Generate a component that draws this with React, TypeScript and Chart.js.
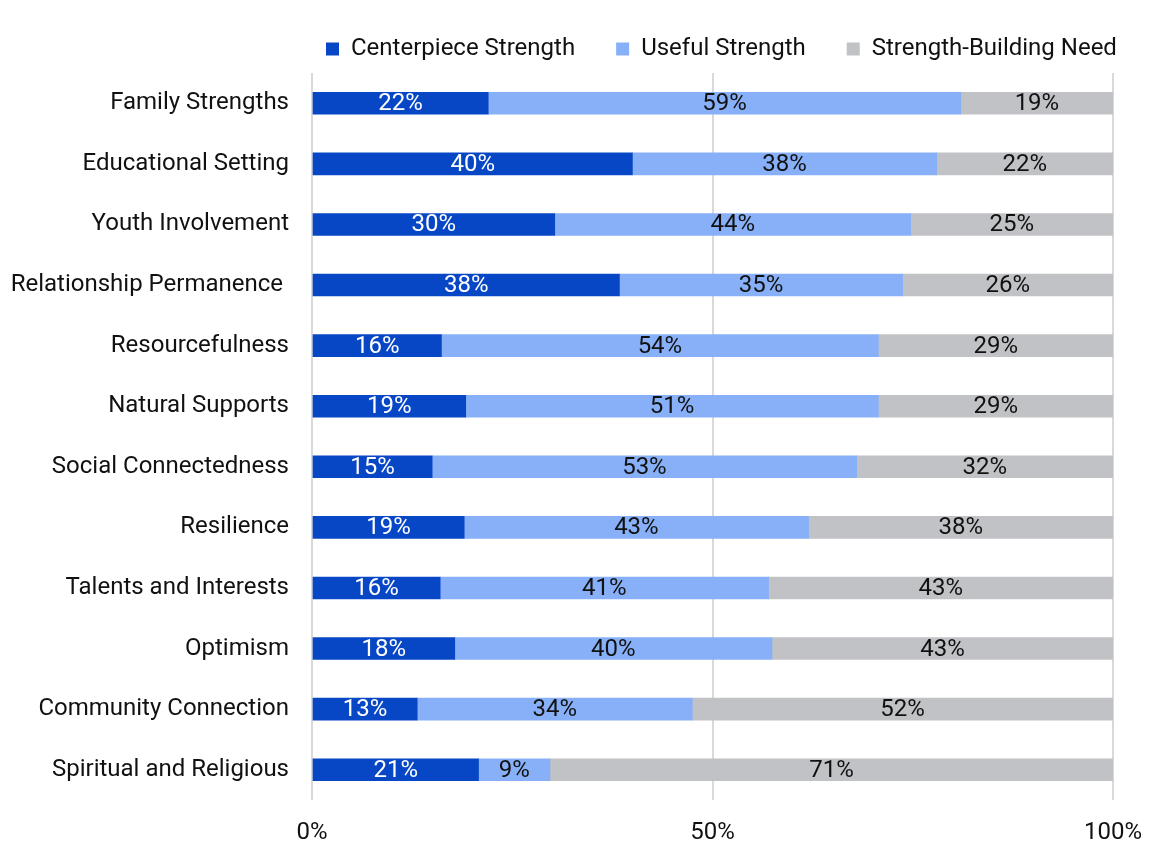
import React, { useEffect, useRef } from "react";
import { Chart, registerables } from "chart.js";

Chart.register(...registerables);

const categories = [
  "Family Strengths",
  "Educational Setting",
  "Youth Involvement",
  "Relationship Permanence ",
  "Resourcefulness",
  "Natural Supports",
  "Social Connectedness",
  "Resilience",
  "Talents and Interests",
  "Optimism",
  "Community Connection",
  "Spiritual and Religious",
];

const centerpiece = [22, 40, 30, 38, 16, 19, 15, 19, 16, 18, 13, 21];
const useful = [59, 38, 44, 35, 54, 51, 53, 43, 41, 40, 34, 9];
const buildingNeed = [19, 22, 25, 26, 29, 29, 32, 38, 43, 43, 52, 71];

const seriesNames = ["Centerpiece Strength", "Useful Strength", "Strength-Building Need"];
const seriesColors = ["#0747C6", "#87B0F8", "#C1C2C5"];
const labelColors = ["#FFFFFF", "#111111", "#111111"];
const xTicks = [0, 50, 100];

const FONT = "Roboto";
const FS = 24;

export default function App() {
  const ref = useRef<HTMLCanvasElement | null>(null);

  useEffect(() => {
    if (!ref.current) return;
    const raw = [centerpiece, useful, buildingNeed];
    const totals = categories.map((_, i) => raw.reduce((s, arr) => s + arr[i], 0));
    const norm = raw.map((arr) => arr.map((v, i) => (v / totals[i]) * 100));

    const labelPlugin = {
      id: "segLabels",
      afterDatasetsDraw(chart: any) {
        const ctx = chart.ctx;
        ctx.save();
        ctx.font = `${FS}px ${FONT}`;
        ctx.textAlign = "center";
        ctx.textBaseline = "middle";
        chart.data.datasets.forEach((ds: any, di: number) => {
          const meta = chart.getDatasetMeta(di);
          meta.data.forEach((el: any, i: number) => {
            const cx = (el.x + el.base) / 2;
            ctx.fillStyle = labelColors[di];
            ctx.fillText(raw[di][i] + "%", cx, el.y + 1);
          });
        });
        ctx.restore();
      },
    };

    const LEG_PAD = 41;
    const legendShift = {
      id: "legendShift",
      afterLayout(chart: any) {
        const lg = chart.legend;
        if (!lg) return;
        const dx = 326 - LEG_PAD - lg.left;
        lg.left += dx;
        lg.right += dx;
        lg.top -= 2;
        lg.bottom -= 2;
      },
    };

    const chart = new Chart(ref.current, {
      type: "bar",
      data: {
        labels: categories,
        datasets: seriesNames.map((name, di) => ({
          label: name,
          data: norm[di],
          backgroundColor: seriesColors[di],
          borderWidth: 0,
          barThickness: 22,
        })),
      },
      options: {
        indexAxis: "y",
        animation: false,
        responsive: false,
        maintainAspectRatio: false,
        layout: { padding: { top: -2, right: 41, bottom: 0, left: 0 } },
        scales: {
          x: {
            stacked: true,
            min: 0,
            max: 100,
            afterBuildTicks(scale: any) {
              scale.ticks = xTicks.map((v) => ({ value: v }));
            },
            afterFit(scale: any) {
              scale.height = 62;
              scale.paddingLeft = 0;
              scale.paddingRight = 0;
            },
            ticks: {
              callback: (v: any) => v + "%",
              color: "#111111",
              font: { family: FONT, size: FS },
              padding: 19,
              maxRotation: 0,
            },
            grid: { color: "#D9D9D9", lineWidth: 2, drawTicks: false },
            border: { display: false },
          },
          y: {
            stacked: true,
            afterFit(scale: any) {
              scale.width = 312;
            },
            ticks: {
              color: "#111111",
              font: { family: FONT, size: FS },
              padding: 23,
              autoSkip: false,
            },
            grid: { display: false, drawTicks: false },
            border: { display: false },
          },
        },
        plugins: {
          legend: {
            position: "top",
            align: "start",
            labels: {
              boxWidth: 13,
              boxHeight: 13,
              padding: LEG_PAD,
              color: "#111111",
              font: { family: FONT, size: FS },
            },
          },
          tooltip: { enabled: false },
        },
      },
      plugins: [labelPlugin, legendShift],
    } as any);
    return () => chart.destroy();
  }, []);

  return (
    <div style={{ position: "fixed", left: 0, top: 0, width: 1154, height: 862, background: "#fff" }}>
      <canvas ref={ref} width={1154} height={862} style={{ width: 1154, height: 862, display: "block" }} />
    </div>
  );
}
